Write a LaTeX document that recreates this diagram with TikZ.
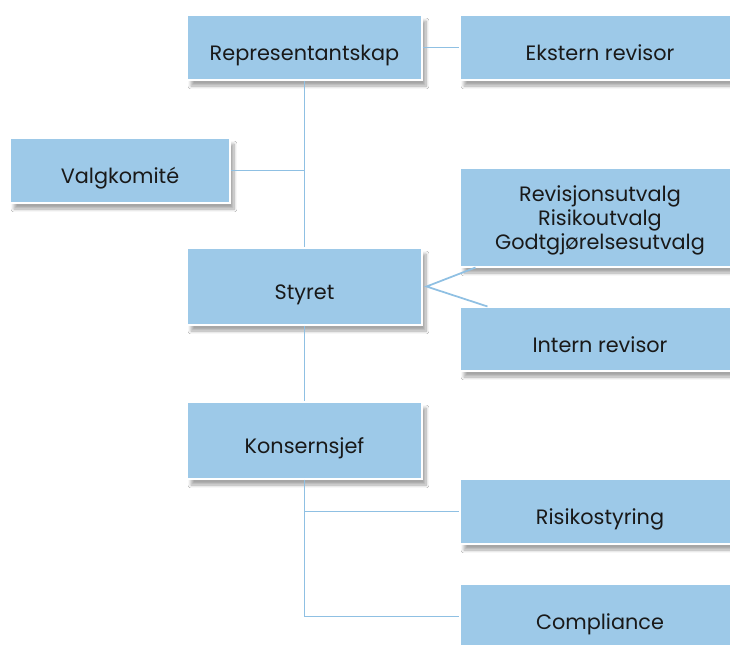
\documentclass[tikz,border=0pt]{standalone}
\usepackage{fontspec}
\setmainfont{Poppins}
\usetikzlibrary{shadows.blur}
\definecolor{boxblue}{HTML}{9DC9E8}
\definecolor{lineblue}{HTML}{8FC0E3}
\tikzset{
box/.style={
	fill=boxblue, draw=white, line width=0.8pt, text=black!90,
	  font=\fontsize{15.6}{18}\selectfont, inner sep=0pt,
	  blur shadow={shadow xshift=3pt, shadow yshift=-4.5pt, shadow blur steps=10, shadow opacity=35}},
unit/.style={box, text height=20pt, text depth=0.5pt},
wide/.style={minimum width=176.25pt},
side/.style={minimum width=210pt},
link/.style={draw=lineblue, line width=1.3pt}
}

\begin{document}
\begin{tikzpicture}[x=0.75pt, y=-0.75pt]
	\clip (0,0) rectangle (730,644);
	\fill[white] (0,0) rectangle (730,644);
	% left column
	\node[unit, wide, minimum height=48.75pt] (repr) at (304.5,47.5) {Representantskap};
	\node[unit, minimum width=165pt, minimum height=48.75pt] (valg) at (120,170.5) {Valgkomité};
	\node[unit, wide, minimum height=57.75pt] (styret) at (304.5,286.5) {Styret};
	\node[unit, wide, minimum height=57.75pt] (konsern) at (304.5,440.5) {Konsernsjef};
	% right column
	\node[unit, side, minimum height=48.75pt] (ekstern) at (600,47.5) {Ekstern revisor};
	\node[box, side, minimum height=74.25pt, text height=52pt, text depth=4pt] (utvalg) at (600,217.5)
		{\begin{tabular}[b]{@{}c@{}}Revisjonsutvalg\\Risikoutvalg\\Godtgjørelsesutvalg\end{tabular}};
	\node[unit, side, minimum height=48pt] (intern) at (600,339) {Intern revisor};
	\node[unit, side, minimum height=48.75pt] (risiko) at (600,511.5) {Risikostyring};
	\node[unit, side, minimum height=48.75pt] (compl) at (600,616.5) {Compliance};
	% connectors
	\draw[link] (repr.east) -- (ekstern.west);
	\draw[link] (repr.south) -- (styret.north);
	\draw[link] (valg.east) -- (valg.east -| repr.south);
	\draw[link] (styret.south) -- (konsern.north);
	\draw[link] ([xshift=12pt]utvalg.south west) -- ([xshift=3pt]styret.east) -- ([xshift=21pt]intern.north west);
	\draw[link] (konsern.south) -- (konsern.south |- compl.west) -- (compl.west);
	\draw[link] (konsern.south |- risiko.west) -- (risiko.west);
\end{tikzpicture}
\end{document}
